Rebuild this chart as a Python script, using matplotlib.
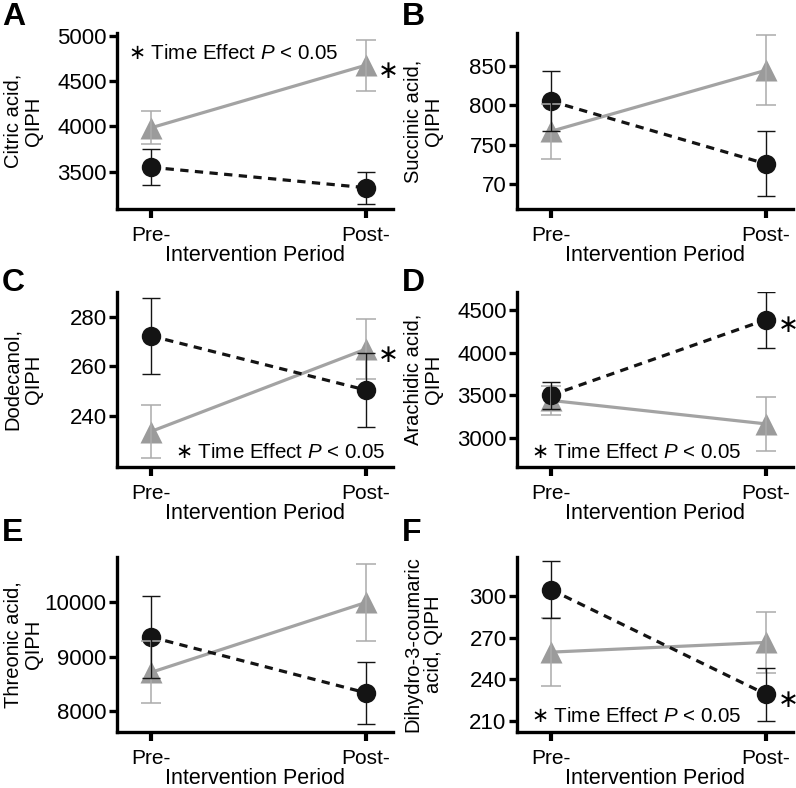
import matplotlib
matplotlib.use("Agg")
import matplotlib.pyplot as plt

plt.rcParams['font.family'] = ['Liberation Sans', 'DejaVu Sans']
plt.rcParams['mathtext.fontset'] = 'custom'
plt.rcParams['mathtext.rm'] = 'Liberation Sans'
plt.rcParams['mathtext.it'] = 'Liberation Sans:italic'
plt.rcParams['mathtext.sf'] = 'DejaVu Sans'

# ---------------- data ----------------
periods = ["Pre-", "Post-"]
panel_letters = ["A", "B", "C", "D", "E", "F"]
ylabels = ["Citric acid,\nQIPH", "Succinic acid,\nQIPH", "Dodecanol,\nQIPH",
           "Arachidic acid,\nQIPH", "Threonic acid,\nQIPH",
           "Dihydro-3-coumaric\nacid, QIPH"]

# black circles, dashed line
black_A = [3550, 3325]; black_A_err = [200, 175]
black_B = [805, 726];   black_B_err = [38, 41]
black_C = [272.3, 250.5]; black_C_err = [15.3, 15]
black_D = [3500, 4385]; black_D_err = [160, 330]
black_E = [9360, 8335]; black_E_err = [750, 570]
black_F = [304.5, 229.2]; black_F_err = [20.5, 19]

# grey triangles, solid line
grey_A = [3985, 4675]; grey_A_err = [180, 280]
grey_B = [767, 844];   grey_B_err = [35, 44]
grey_C = [233.8, 267]; grey_C_err = [10.5, 12]
grey_D = [3440, 3165]; grey_D_err = [165, 320]
grey_E = [8710, 9995]; grey_E_err = [570, 700]
grey_F = [259.5, 266.5]; grey_F_err = [24.5, 22]

ylims = [(3090, 5030), (669, 891), (219.5, 290), (2660, 4710), (7615, 10830), (202, 328)]
yticks = [[3500, 4000, 4500, 5000], [700, 750, 800, 850], [240, 260, 280],
          [3000, 3500, 4000, 4500], [8000, 9000, 10000], [210, 240, 270, 300]]
yticklabels = [["3500", "4000", "4500", "5000"], ["70", "750", "800", "850"],
               ["240", "260", "280"], ["3000", "3500", "4000", "4500"],
               ["8000", "9000", "10000"], ["210", "240", "270", "300"]]

# significance annotations
time_effect = [True, False, True, True, False, True]
time_text_pos = [(0.040, 0.886), None, (0.211, 0.08), (0.051, 0.08), None, (0.051, 0.086)]
star_series = ["grey", None, "grey", "black", None, "black"]

blacks = [black_A, black_B, black_C, black_D, black_E, black_F]
black_errs = [black_A_err, black_B_err, black_C_err, black_D_err, black_E_err, black_F_err]
greys = [grey_A, grey_B, grey_C, grey_D, grey_E, grey_F]
grey_errs = [grey_A_err, grey_B_err, grey_C_err, grey_D_err, grey_E_err, grey_F_err]

# ---------------- layout ----------------
W, H = 796, 788
fig = plt.figure(figsize=(W / 100, H / 100), dpi=100)

# axes boxes in pixel (left, top, right, bottom)
boxes = [(117, 33, 393, 209), (517, 33, 793, 209),
         (117, 292, 393, 467), (517, 292, 793, 467),
         (117, 557, 393, 732), (517, 557, 793, 732)]
letter_pos = [(2, 2), (402, 2), (2, 268), (402, 268), (2, 518), (402, 518)]

GREY_MARK = "#9b9b9b"
GREY_LINE = "#a3a3a3"
GREY_ERR = "#ababab"
BLACK = "#141414"
x = [0, 1]

for i in range(6):
    l, t, r, b = boxes[i]
    ax = fig.add_axes([l / W, 1 - b / H, (r - l) / W, (b - t) / H])
    # lines
    ax.plot(x, greys[i], color=GREY_LINE, lw=2.3, zorder=2, solid_capstyle='butt')
    ax.plot(x, blacks[i], color=BLACK, lw=2.3, ls=(0, (2.6, 2.0)), zorder=2)
    # markers
    ax.plot(x, greys[i], ls='none', marker='^', ms=16, color=GREY_MARK, mec='none', zorder=3)
    ax.plot(x, blacks[i], ls='none', marker='o', ms=14, color=BLACK, mec='none', zorder=3)
    # error bars
    ax.errorbar(x, greys[i], yerr=grey_errs[i], fmt='none', ecolor=GREY_ERR,
                elinewidth=1.1, capsize=7.5, capthick=1.1, zorder=4)
    ax.errorbar(x, blacks[i], yerr=black_errs[i], fmt='none', ecolor=BLACK,
                elinewidth=1.0, capsize=6.8, capthick=1.0, zorder=4)

    ax.set_xlim(-0.158, 1.126)
    ax.set_ylim(*ylims[i])
    ax.set_xticks(x)
    ax.set_xticklabels(periods, fontsize=15)
    ax.set_yticks(yticks[i])
    ax.set_yticklabels(yticklabels[i], fontsize=16)
    ax.tick_params(axis='y', length=6, width=2.4, pad=1.5, direction='out')
    ax.tick_params(axis='x', length=6.5, width=3, pad=6, direction='out')
    for s in ['top', 'right']:
        ax.spines[s].set_visible(False)
    for s in ['left', 'bottom']:
        ax.spines[s].set_linewidth(2.4)
    ax.set_xlabel("Intervention Period", fontsize=15.5, labelpad=0)

    # y label as figure text
    fig.text((l - 94) / W, 1 - ((t + b) / 2) / H, ylabels[i], rotation=90,
             ha='center', va='center', fontsize=14.5, multialignment='center',
             linespacing=1.1)
    # panel letter
    lx, ly = letter_pos[i]
    fig.text(lx / W, 1 - ly / H, panel_letters[i], fontsize=23, fontweight='bold',
             ha='left', va='top')

    if time_effect[i]:
        tx, ty = time_text_pos[i]
        ax.text(tx, ty, r"$\mathsf{\ast}$ Time Effect $P$ < 0.05", transform=ax.transAxes,
                fontsize=14.8, ha='left', va='center')
    if star_series[i] is not None:
        yv = greys[i][1] if star_series[i] == "grey" else blacks[i][1]
        ax.annotate(r"$\mathsf{\ast}$", xy=(1.098, yv), xytext=(0, -4), textcoords='offset points',
                    fontsize=18, ha='center', va='center')

fig.savefig("out.png", dpi=100)
